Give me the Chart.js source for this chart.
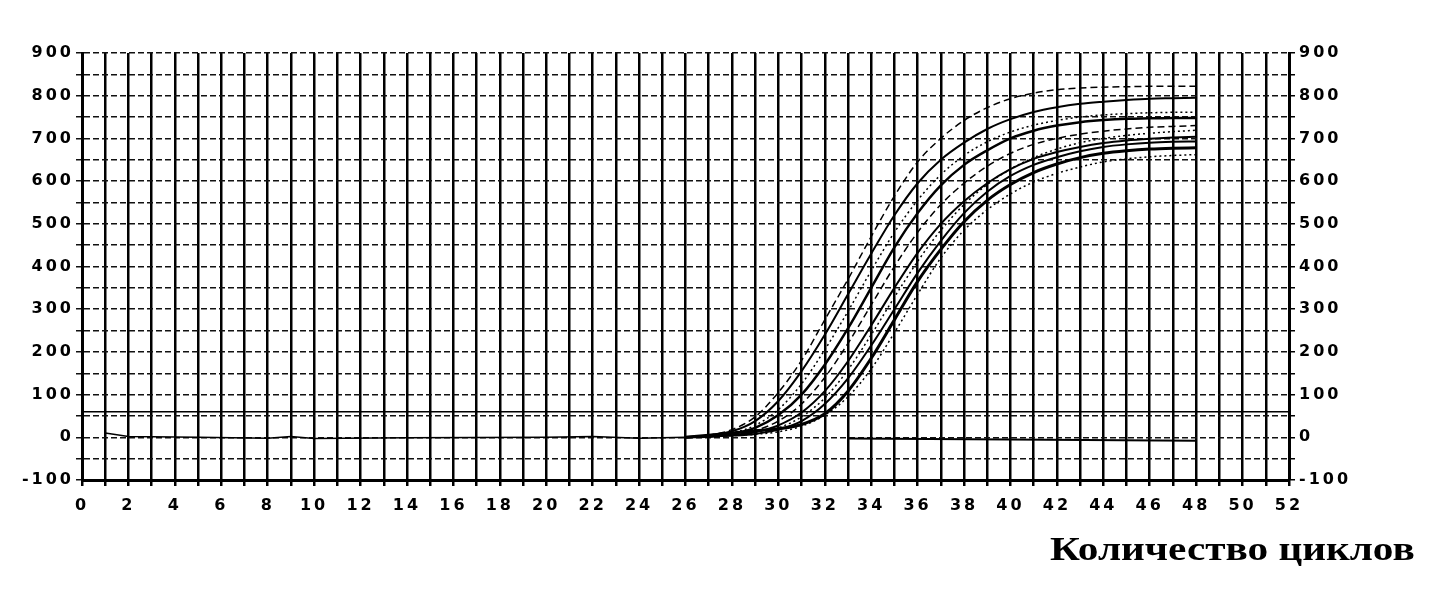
<!DOCTYPE html>
<html>
<head>
<meta charset="utf-8">
<script src="https://cdn.jsdelivr.net/npm/chart.js@4"></script>
<style>
  body { margin: 0; background: #fff; }
  #wrap { position: relative; width: 1445px; height: 605px; }
  #title {
    position: absolute; left: 1050px; top: 533px;
    font: bold 33px "Liberation Serif", serif; line-height: 1;
    color: #000; white-space: nowrap; transform-origin: 0 0;
  }
</style>
</head>
<body>
<div id="wrap">
  <canvas id="canvas" width="1445" height="605"></canvas>
  <div id="title">Количество циклов</div>
</div>
<script>
// cycles where the amplification curves are sampled
var cycles = [26, 27, 28, 29, 30, 31, 32, 33, 34, 35, 36, 37, 38, 39, 40, 41, 42, 43, 44, 45, 46, 47, 48];

// fluorescence, one array per curve
var curve1  = [0, 5, 18, 48, 105, 180, 275, 370, 470, 565, 645, 700, 742, 772, 793, 806, 814, 818, 820, 821, 822, 822, 822];
var curve2  = [0, 4, 14, 38, 85, 155, 240, 335, 430, 520, 595, 650, 690, 722, 745, 762, 773, 781, 786, 790, 793, 794, 795];
var curve3  = [0, 3, 10, 28, 65, 125, 205, 295, 390, 480, 555, 615, 660, 692, 715, 731, 742, 750, 755, 758, 760, 761, 761];
var curve4  = [0, 2, 8, 22, 52, 100, 170, 255, 350, 445, 525, 590, 638, 672, 700, 718, 730, 738, 743, 746, 747, 748, 748];
var curve5  = [0, 2, 6, 16, 38, 78, 140, 220, 310, 400, 480, 545, 595, 635, 665, 686, 700, 710, 717, 722, 726, 728, 730];
var curve6  = [0, 2, 5, 12, 28, 58, 108, 178, 262, 350, 432, 500, 553, 595, 628, 652, 668, 680, 689, 695, 699, 702, 704];
var curve7  = [0, 2, 5, 10, 22, 48, 92, 158, 240, 328, 412, 485, 545, 592, 628, 655, 675, 690, 700, 707, 712, 716, 719];
var curve8  = [0, 2, 4, 8, 18, 38, 78, 138, 215, 300, 385, 460, 525, 575, 612, 638, 656, 670, 680, 686, 690, 692, 693];
var curve9  = [0, 5, 10, 15, 20, 30, 55, 108, 185, 275, 365, 440, 505, 555, 592, 620, 640, 655, 665, 671, 675, 677, 678];
var curve10 = [0, 2, 4, 7, 13, 26, 52, 95, 160, 245, 335, 420, 485, 533, 570, 598, 618, 633, 645, 652, 657, 660, 662];

// background before amplification and the flat tail under the curves
var baseCycles = [1, 2, 5, 8, 9, 10, 14, 20, 22, 24, 26];
var baseValues = [10, 2, 0, -2, 2, -3, -1, 0, 2, -2, 0];
var tailCycles = [33, 40, 48];
var tailValues = [-3, -5, -8];

// threshold line
var threshCycles = [0, 52];
var threshValues = [60, 60];

var curves = [curve1, curve2, curve3, curve4, curve5, curve6, curve7, curve8, curve9, curve10];
var dashes = [[7, 4], [], [2, 3], [], [7, 4], [], [2, 3], [], [], [2, 3]];
var widths = [1.5, 2, 1.5, 2.5, 1.5, 2, 1.5, 2, 3, 1.5];

function pts(xs, ys) {
  return xs.map(function(x, i) { return { x: x, y: ys[i] }; });
}

var datasets = curves.map(function(c, i) {
  return {
    data: pts(cycles, c),
    borderColor: '#000',
    borderWidth: widths[i],
    borderDash: dashes[i],
    pointRadius: 0,
    cubicInterpolationMode: 'monotone'
  };
});
datasets.push({ data: pts(baseCycles, baseValues), borderColor: '#000', borderWidth: 1.5, pointRadius: 0 });
datasets.push({ data: pts(tailCycles, tailValues), borderColor: '#000', borderWidth: 2, pointRadius: 0 });
datasets.push({ data: pts(threshCycles, threshValues), borderColor: '#000', borderWidth: 1.5, pointRadius: 0 });

var tickFont = { family: 'DejaVu Sans', size: 16, weight: 'bold' };

// wide, spaced tick digits like the scan
var spacing = {
  id: 'spacing',
  beforeLayout: function(c) { c.ctx.letterSpacing = '3px'; },
  beforeDraw: function(c) { c.ctx.letterSpacing = '3px'; }
};

var ctx = document.getElementById('canvas').getContext('2d');
var chart = new Chart(ctx, {
  type: 'line',
  data: { datasets: datasets },
  plugins: [spacing],
  options: {
    responsive: false,
    animation: false,
    layout: { padding: { top: 53, bottom: 85, left: 0, right: 0 } },
    plugins: { legend: { display: false }, tooltip: { enabled: false } },
    scales: {
      x: {
        type: 'linear', min: 0, max: 52,
        afterFit: function(s) { s.height = 40; },
        ticks: {
          stepSize: 1, autoSkip: false, maxRotation: 0, padding: 10, color: '#000', font: tickFont,
          callback: function(v) { return v % 2 === 0 ? String(v) : ''; }
        },
        grid: { color: '#000', lineWidth: 2.5, tickLength: 6 },
        border: { color: '#000', width: 3 }
      },
      y: {
        min: -100, max: 900,
        afterFit: function(s) { s.width = 82; },
        ticks: {
          stepSize: 50, autoSkip: false, padding: 2, color: '#000', font: tickFont,
          callback: function(v) { return v % 100 === 0 ? String(v) : ''; }
        },
        grid: { color: '#111', lineWidth: 1.5, tickLength: 6, tickBorderDash: [] },
        border: { color: '#000', width: 3, dash: [6, 3] }
      },
      y2: {
        position: 'right', min: -100, max: 900,
        afterFit: function(s) { s.width = 156; },
        ticks: {
          stepSize: 50, autoSkip: false, padding: 4, color: '#000', font: tickFont,
          callback: function(v) { return v % 100 === 0 ? String(v) : ''; }
        },
        grid: { drawOnChartArea: false, color: '#000', lineWidth: 1.5, tickLength: 6 },
        border: { color: '#000', width: 3 }
      }
    }
  }
});

// stretch the caption to the width it has in the scan
var t = document.getElementById('title');
t.style.transform = 'scaleX(' + (365 / t.offsetWidth) + ')';
</script>
</body>
</html>
